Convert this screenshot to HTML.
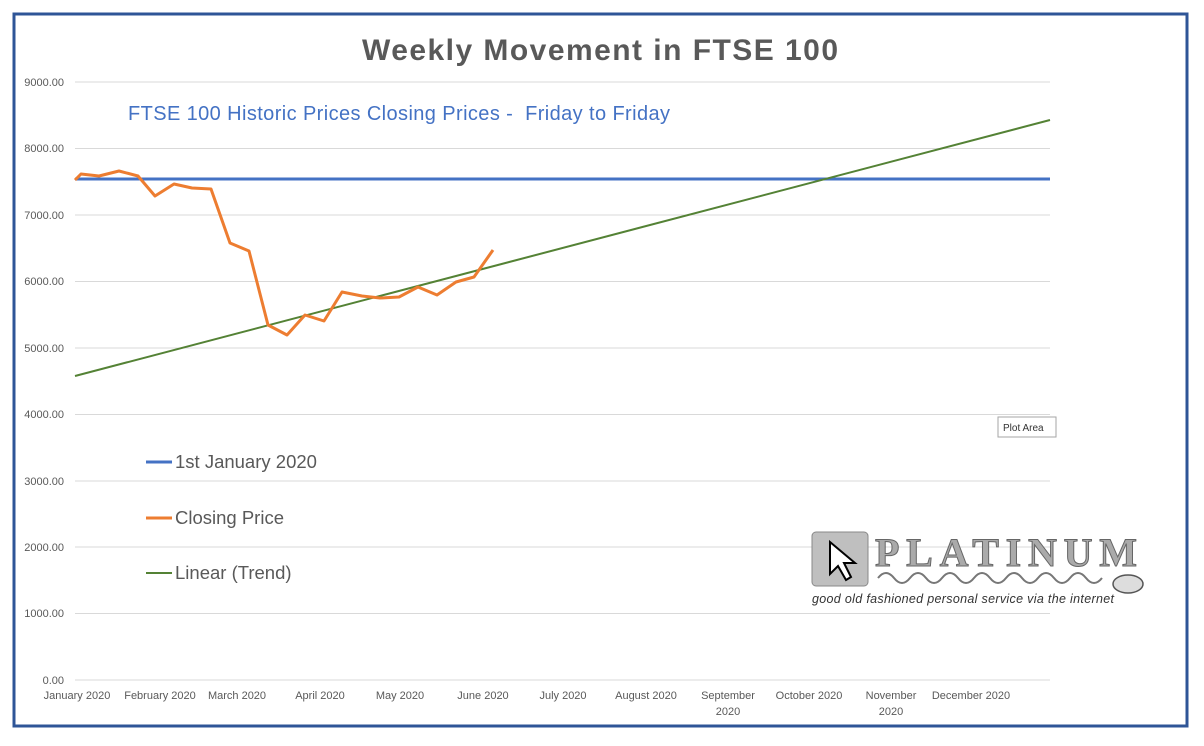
<!DOCTYPE html>
<html><head><style>
body{margin:0;width:1204px;height:741px;background:#fff;overflow:hidden;font-family:"Liberation Sans",sans-serif}
</style></head><body>
<svg width="1204" height="741" xmlns="http://www.w3.org/2000/svg" font-family="Liberation Sans, sans-serif">
<rect x="14" y="14" width="1173" height="712" fill="#fff" stroke="#2f5597" stroke-width="3"/>
<text x="600" y="60" text-anchor="middle" font-size="30" font-weight="bold" fill="#595959" textLength="476">Weekly Movement in FTSE 100</text>
<g stroke="#d9d9d9" stroke-width="1">
<line x1="75" x2="1050" y1="82" y2="82"/><line x1="75" x2="1050" y1="148.5" y2="148.5"/><line x1="75" x2="1050" y1="215" y2="215"/><line x1="75" x2="1050" y1="281.5" y2="281.5"/><line x1="75" x2="1050" y1="348" y2="348"/><line x1="75" x2="1050" y1="414.5" y2="414.5"/><line x1="75" x2="1050" y1="481" y2="481"/><line x1="75" x2="1050" y1="547" y2="547"/><line x1="75" x2="1050" y1="613.5" y2="613.5"/><line x1="75" x2="1050" y1="680" y2="680"/>
</g>
<g font-size="11" fill="#595959" text-anchor="end">
<text x="64" y="86">9000.00</text><text x="64" y="152">8000.00</text><text x="64" y="219">7000.00</text><text x="64" y="285">6000.00</text><text x="64" y="352">5000.00</text><text x="64" y="418">4000.00</text><text x="64" y="485">3000.00</text><text x="64" y="551">2000.00</text><text x="64" y="617">1000.00</text><text x="64" y="684">0.00</text>
</g>
<g font-size="11" fill="#595959" text-anchor="middle">
<text x="77" y="699">January 2020</text><text x="160" y="699">February 2020</text><text x="237" y="699">March 2020</text><text x="320" y="699">April 2020</text><text x="400" y="699">May 2020</text><text x="483" y="699">June 2020</text><text x="563" y="699">July 2020</text><text x="646" y="699">August 2020</text><text x="728" y="699">September</text><text x="728" y="715">2020</text><text x="809" y="699">October 2020</text><text x="891" y="699">November</text><text x="891" y="715">2020</text><text x="971" y="699">December 2020</text>
</g>
<text x="128" y="120" font-size="20" fill="#4472c4" textLength="542" xml:space="preserve">FTSE 100 Historic Prices Closing Prices -  Friday to Friday</text>
<line x1="75" x2="1050" y1="179" y2="179" stroke="#4472c4" stroke-width="3"/>
<line x1="75" y1="376" x2="1050" y2="120" stroke="#548235" stroke-width="2"/>
<polyline fill="none" stroke="#ed7d31" stroke-width="3" stroke-linejoin="round" points="75,180 81,174 99,176 119,171 138,176 155,196 174,184 192,188 211,189 230,243 249,251 268,325 287,335 305,315 324,321 342,292 362,296 380,298 399,297 418,287 437,295 456,282 474,277 493,250"/>
<g font-size="18.5" fill="#595959">
<line x1="146" x2="172" y1="462" y2="462" stroke="#4472c4" stroke-width="3"/><text x="175" y="468">1st January 2020</text>
<line x1="146" x2="172" y1="518" y2="518" stroke="#ed7d31" stroke-width="3"/><text x="175" y="524">Closing Price</text>
<line x1="146" x2="172" y1="573" y2="573" stroke="#548235" stroke-width="2"/><text x="175" y="579">Linear (Trend)</text>
</g>
<rect x="998" y="417" width="58" height="20" fill="#fff" stroke="#a6a6a6"/>
<text x="1003" y="431" font-size="10" fill="#333">Plot Area</text>
<rect x="812" y="532" width="56" height="54" rx="4" fill="#bfbfbf" stroke="#888"/>
<path d="M830,542 L830,574 L838,566 L846,580 L851,577 L844,563 L855,563 Z" fill="#fff" stroke="#000" stroke-width="2"/>
<text x="875" y="566" font-size="40" font-family="Liberation Serif, serif" font-weight="bold" fill="#aaa" stroke="#666" stroke-width="1" textLength="262">PLATINUM</text>
<path d="M878,578 q8,-10 16,0 t16,0 t16,0 t16,0 t16,0 t16,0 t16,0 t16,0 t16,0 t16,0 t16,0 t16,0 t16,0 t16,0" fill="none" stroke="#777" stroke-width="2"/>
<ellipse cx="1128" cy="584" rx="15" ry="9" fill="#ddd" stroke="#555" stroke-width="1.5"/>
<text x="812" y="603" font-size="12.5" font-style="italic" fill="#333" textLength="302">good old fashioned personal service via the internet</text>
</svg>
</body></html>
